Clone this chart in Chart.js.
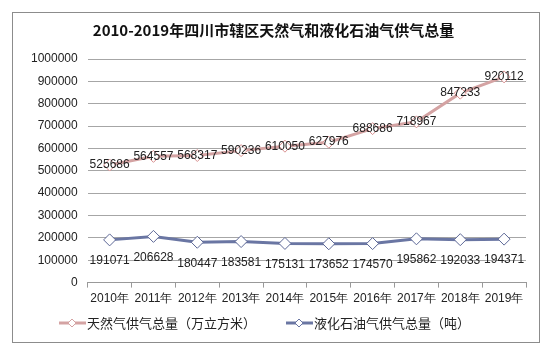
<!DOCTYPE html>
<html>
<head>
<meta charset="utf-8">
<script src="https://cdn.jsdelivr.net/npm/chart.js@4"></script>
<style>
  body { margin: 0; background: #fff; }
  #box { position: absolute; left: 12px; top: 12px; width: 526px; height: 329px; border: 1px solid #8c8c8c; }
</style>
</head>
<body>
<div id="box"><canvas id="gasChart" width="526" height="329"></canvas></div>
<script>
const years = ['2010年', '2011年', '2012年', '2013年', '2014年', '2015年', '2016年', '2017年', '2018年', '2019年'];
const naturalGas = [525686, 564557, 568317, 590236, 610050, 627976, 688686, 718967, 847233, 920112]; // 万立方米
const lpg = [191071, 206628, 180447, 183581, 175131, 173652, 174570, 195862, 192033, 194371];      // 吨
const seriesNames = ['天然气供气总量（万立方米）', '液化石油气供气总量（吨）'];
const labelShift = [0, 21]; // label vertical shift per series

const font = '"Liberation Sans", Arial, sans-serif';

// value labels + legend with line and diamond
const extras = {
  id: 'extras',
  afterDatasetsDraw(chart) {
    const c = chart.ctx;
    c.save();
    c.font = '12px ' + font;
    c.fillStyle = '#222';
    c.textAlign = 'center';
    c.textBaseline = 'middle';
    chart.data.datasets.forEach((ds, i) => {
      chart.getDatasetMeta(i).data.forEach((pt, j) => {
        c.fillText(ds.data[j], pt.x, pt.y + labelShift[i]);
      });
    });
    // legend
    c.font = '13px "Noto Sans CJK SC", sans-serif';
    c.textAlign = 'left';
    const y = 310;
    let x = 46;
    chart.data.datasets.forEach((ds, i) => {
      c.strokeStyle = ds.borderColor;
      c.lineWidth = 3;
      c.beginPath(); c.moveTo(x, y); c.lineTo(x + 27, y); c.stroke();
      c.fillStyle = '#fff';
      c.lineWidth = 1;
      c.beginPath();
      c.moveTo(x + 13, y - 4); c.lineTo(x + 17, y); c.lineTo(x + 13, y + 4); c.lineTo(x + 9, y);
      c.closePath(); c.fill(); c.stroke();
      c.fillStyle = '#222';
      c.fillText(ds.label, x + 28, y);
      x += 28 + c.measureText(ds.label).width + 30;
    });
    c.restore();
  }
};

new Chart(document.getElementById('gasChart'), {
  type: 'line',
  data: {
    labels: years,
    datasets: [{
      label: seriesNames[0],
      data: naturalGas,
      borderColor: '#d4a3a3',
      backgroundColor: '#fff',
      borderWidth: 3,
      pointStyle: 'rectRot',
      pointRadius: 6,
      pointBorderWidth: 1,
      pointBorderColor: '#d88f8f',
      pointBackgroundColor: '#fff',
      tension: 0
    }, {
      label: seriesNames[1],
      data: lpg,
      borderColor: '#6a76a3',
      backgroundColor: '#fff',
      borderWidth: 3,
      pointStyle: 'rectRot',
      pointRadius: 6,
      pointBorderWidth: 1,
      pointBorderColor: '#5c6796',
      pointBackgroundColor: '#fff',
      tension: 0
    }]
  },
  options: {
    responsive: false,
    animation: false,
    layout: { padding: { left: 8, right: 13, top: 0, bottom: 32 } },
    plugins: {
      legend: { display: false },
      tooltip: { enabled: false },
      title: {
        display: true,
        text: '2010-2019年四川市辖区天然气和液化石油气供气总量',
        color: '#111',
        font: { family: '"Noto Sans CJK SC", serif', size: 15, weight: 'bold' },
        padding: { top: 8, bottom: 20 }
      }
    },
    scales: {
      x: {
        offset: true,
        grid: { offset: true, drawOnChartArea: false, drawTicks: true, tickLength: 5, color: '#999' },
        border: { color: '#999' },
        ticks: { color: '#222', font: { family: font, size: 12 }, maxRotation: 0, autoSkip: false, padding: 4 }
      },
      y: {
        min: 0,
        max: 1000000,
        ticks: { stepSize: 100000, color: '#222', font: { family: font, size: 12 }, padding: 10, callback: v => String(v) },
        grid: { color: '#a6a6a6', drawTicks: false },
        border: { display: false }
      }
    }
  },
  plugins: [extras]
});
</script>
</body>
</html>
